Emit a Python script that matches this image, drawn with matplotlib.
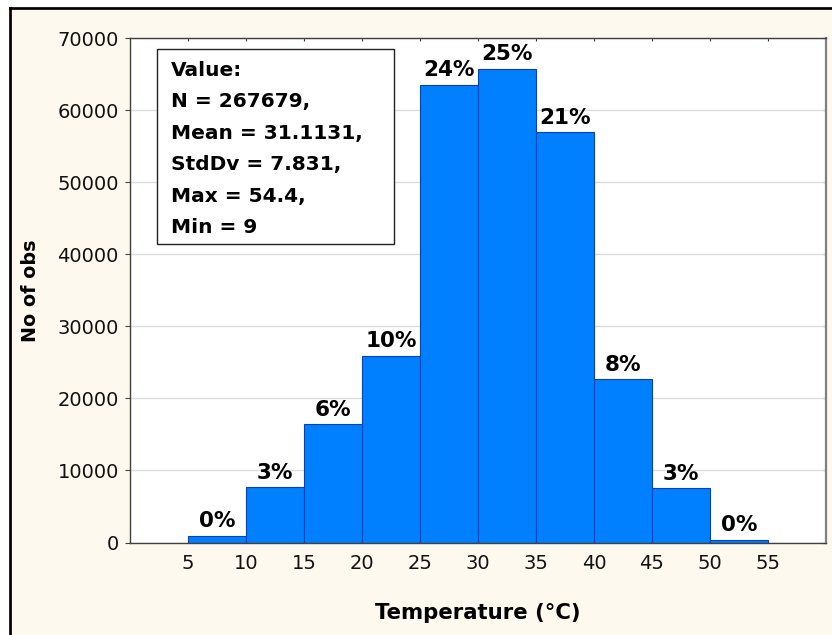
import numpy as np
import matplotlib
matplotlib.use("Agg")
import matplotlib.pyplot as plt
from matplotlib.patches import Rectangle
from matplotlib.lines import Line2D

# Histogram of temperature observations (5 °C bins)
bin_edges = [5, 10, 15, 20, 25, 30, 35, 40, 45, 50, 55]
counts = [970, 7640, 16400, 25900, 63530, 65719, 56900, 22680, 7540, 400]
y_ticks = [0, 10000, 20000, 30000, 40000, 50000, 60000, 70000]
x_ticks = bin_edges

# Summary statistics of the raw values
stat_mean = "31.1131"
stat_std = "7.831"
stat_max = "54.4"
stat_min = "9"

n_total = int(np.sum(counts))
stats_lines = [
    "Value:",
    f"N = {n_total},",
    f"Mean = {stat_mean},",
    f"StdDv = {stat_std},",
    f"Max = {stat_max},",
    f"Min = {stat_min}",
]

plt.rcParams["font.family"] = ["DejaVu Sans"]

W, H = 832, 635
fig = plt.figure(figsize=(W / 100, H / 100), dpi=100, facecolor="white")

# Cream page with a black border on the left and top
x_left = 10 / W
y_top = 1 - 8 / H
fig.patches.append(Rectangle((x_left, 0), 1 - x_left, y_top, transform=fig.transFigure,
                             facecolor="#fdf9ef", edgecolor="none", zorder=-10))
fig.lines.append(Line2D([x_left, x_left], [0, y_top], transform=fig.transFigure,
                        color="black", linewidth=1.95, solid_capstyle="projecting"))
fig.lines.append(Line2D([x_left, 1], [y_top, y_top], transform=fig.transFigure,
                        color="black", linewidth=1.95, solid_capstyle="projecting"))

ax = fig.add_axes([130 / W, 1 - 542.5 / H, 696 / W, 504.5 / H])
ax.set_facecolor("white")

edges = np.asarray(bin_edges, dtype=float)
ax.bar(edges[:-1], counts, width=np.diff(edges), align="edge",
       color="#0080ff", edgecolor="#0b3fb5", linewidth=0.8, zorder=2)

ax.set_xlim(0, 60)
ax.set_ylim(0, 70000)
ax.set_xticks(x_ticks)
ax.set_yticks(y_ticks)
ax.grid(axis="y", color="#dcdcdc", linewidth=1.0)
ax.set_axisbelow(True)

ax.tick_params(axis="x", length=0, pad=8.0, labelsize=14, labelcolor="#111111")
ax.tick_params(axis="y", direction="out", length=3.6, width=0.8, pad=4.5,
               labelsize=14, labelcolor="#111111", color="#444444")

# Inward tick marks on the top and right edges
top = ax.secondary_xaxis("top")
top.set_xticks(x_ticks)
top.tick_params(direction="in", length=2.5, width=0.8, labeltop=False, color="#333333")
right = ax.secondary_yaxis("right")
right.set_yticks(y_ticks)
right.tick_params(direction="in", length=3, width=0.8, labelright=False, color="#333333")
for sec in (top, right):
    for sp in sec.spines.values():
        sp.set_visible(False)

for side in ("left", "bottom", "top"):
    ax.spines[side].set_color("#404040")
    ax.spines[side].set_linewidth(1.0)
ax.spines["right"].set_color("#808080")
ax.spines["right"].set_linewidth(1.6)

ax.set_xlabel("Temperature (°C)", fontsize=15.3, fontweight="bold")
ax.xaxis.set_label_coords(0.5, -76.8 / 504.5)
ax.xaxis.label.set_va("baseline")
ax.set_ylabel("No of obs", fontsize=13.8, fontweight="bold")
ax.yaxis.set_label_coords(-99 / 696, 0.5)
ax.yaxis.label.set_va("center")

# Percentage of all observations above each bar
pct = np.rint(100 * np.asarray(counts) / n_total).astype(int)
centers = (edges[:-1] + edges[1:]) / 2
for cx, c, p in zip(centers, counts, pct):
    ax.annotate(f"{p}%", xy=(cx, c), xytext=(0, 6.1), textcoords="offset points",
                ha="center", va="baseline", fontsize=15.5, fontweight="bold",
                color="black", zorder=4)

# Statistics box
box_x0, box_x1 = (157.3 - 130) / 696, (394.3 - 130) / 696
box_y0, box_y1 = (542.5 - 244) / 504.5, (542.5 - 49) / 504.5
ax.add_patch(Rectangle((box_x0, box_y0), box_x1 - box_x0, box_y1 - box_y0,
                       transform=ax.transAxes, facecolor="white",
                       edgecolor="#222222", linewidth=1.0, zorder=5))
line_step = 31.4 / 504.5
first_base = (542.5 - 76) / 504.5
for i, line in enumerate(stats_lines):
    ax.text((171 - 130) / 696, first_base - i * line_step, line,
            transform=ax.transAxes, ha="left", va="baseline",
            fontsize=14.5, fontweight="bold", color="black", zorder=6)

fig.savefig("out.png", dpi=100, facecolor=fig.get_facecolor())
